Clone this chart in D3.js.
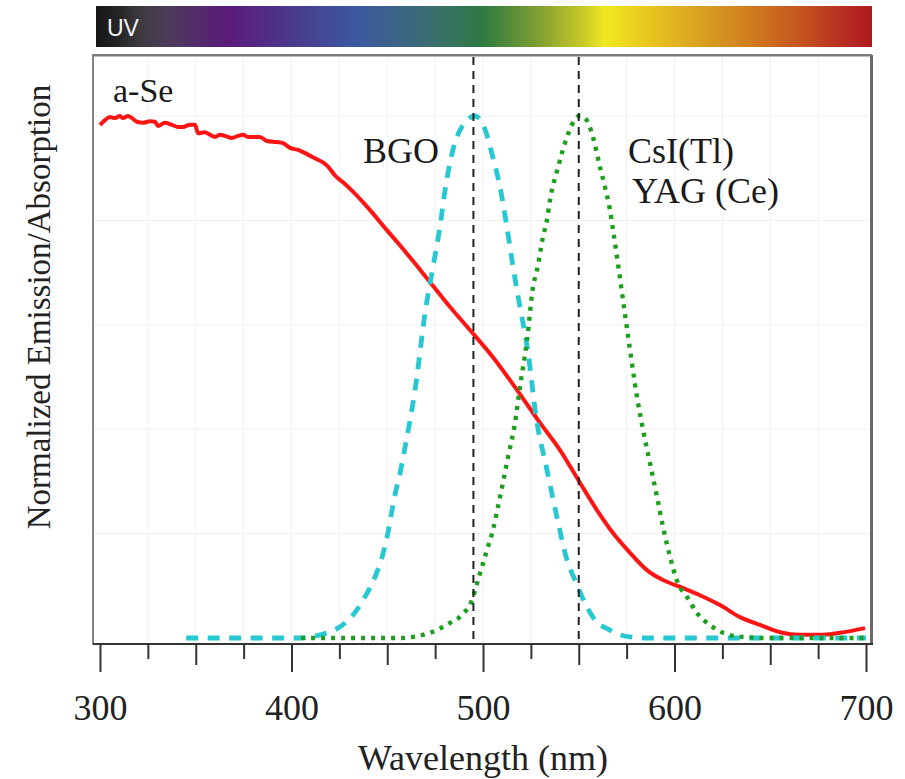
<!DOCTYPE html>
<html>
<head>
<meta charset="utf-8">
<script src="https://cdn.jsdelivr.net/npm/d3@7/dist/d3.min.js"></script>
<style>
  html, body { margin: 0; padding: 0; background: #fff; }
  svg { display: block; }
</style>
</head>
<body>
<svg id="chart" width="905" height="779"></svg>
<script>
// a-Se absorption spectrum: [wavelength nm, normalized absorption]
const aSe = [
  [300,0.983],[302.6,0.992],[305.2,0.998],[307.8,0.996],[310.4,1.0],[312,0.996],
  [314.6,1.0],[316.7,0.996],[319.3,0.989],[322.5,0.987],[326.1,0.99],[328.7,0.989],
  [330.3,0.981],[333.9,0.987],[337.6,0.983],[340.7,0.979],[343.3,0.979],[347,0.983],
  [349.6,0.983],[351.2,0.967],[354.8,0.969],[357.4,0.964],[360.1,0.96],[362.7,0.964],
  [365.3,0.962],[368.9,0.958],[372.1,0.962],[374.7,0.964],[377.3,0.96],[379.9,0.96],
  [383.6,0.96],[387.2,0.952],[392.4,0.95],[395.6,0.948],[399.2,0.939],[403.4,0.935],
  [408.1,0.927],[413.3,0.917],[416.4,0.911],[419.1,0.903],[422.7,0.886],[426.9,0.873],
  [432.1,0.855],[437.3,0.835],[442.6,0.813],[447.8,0.79],[456.7,0.752],[465.5,0.713],
  [472.3,0.682],[482.8,0.634],[493.2,0.59],[505.2,0.538],[517.8,0.475],[529.8,0.412],
  [540.2,0.36],[550.7,0.297],[559.5,0.245],[567.9,0.201],[576.8,0.163],[585.6,0.13],
  [594,0.111],[602.9,0.098],[613.3,0.082],[623.8,0.063],[634.2,0.04],[644.6,0.025],
  [655.1,0.011],[665.5,0.006],[676,0.006],[686.4,0.01],[699.5,0.019]
];

// BGO emission spectrum
const bgo = [
  [345,0.0],[375,0.0],[404.4,0.0],[414.9,0.006],[424.3,0.019],[432.1,0.044],
  [438.4,0.079],[443.6,0.117],[447.3,0.155],[449.9,0.193],[454,0.274],[456.7,0.316],
  [458.7,0.354],[464.5,0.475],[470.2,0.634],[473.9,0.711],[477.5,0.787],[480.2,0.858],
  [484.3,0.935],[489.6,0.983],[495.8,1.0],[501,0.975],[505.2,0.92],[508.9,0.864],
  [512.5,0.787],[515.7,0.711],[519.3,0.634],[523,0.559],[524.5,0.52],[527.2,0.437],
  [533.4,0.322],[538.6,0.232],[543.9,0.149],[548,0.111],[551.7,0.079],[557.4,0.04],
  [566.3,0.015],[576.8,0.002],[587.2,0.0],[640,0.0],[700,0.0]
];

// CsI(Tl) / YAG(Ce) emission spectrum
const csi = [
  [405,0.0],[440,0.0],[456.7,0.0],[472.3,0.01],[482.8,0.029],[489,0.044],[494.3,0.073],
  [497.4,0.111],[502.1,0.169],[505.2,0.207],[507.8,0.251],[513.1,0.347],[516.7,0.412],
  [519.3,0.481],[523,0.571],[526.1,0.672],[528.2,0.705],[531.3,0.768],[533.4,0.801],
  [535,0.839],[539.2,0.902],[543.9,0.96],[549.1,0.998],[550.7,1.0],[553.3,0.996],
  [557.4,0.96],[561.1,0.902],[563.7,0.864],[566.3,0.82],[567.9,0.782],[575.7,0.58],
  [580.4,0.462],[583.6,0.398],[587.2,0.335],[590.9,0.27],[594,0.213],[597.7,0.155],
  [601.8,0.105],[606.5,0.079],[611.7,0.048],[618.5,0.025],[625.3,0.01],[635.8,0.002],
  [650,0.0],[700,0.0]
];

// peak markers (nm)
const peakLines = [495, 550];

// x-axis ticks
const majorTicks = [300, 400, 500, 600, 700];
const midTicks = [350, 450, 550, 650];
const minorTicks = [325, 375, 425, 475, 525, 575, 625, 675];
const gridX = [325, 350, 375, 400, 425, 450, 475, 500, 525, 550, 575, 600, 625, 650, 675];
const gridY = [0.2, 0.4, 0.6, 0.8, 1.0];

// visible-spectrum strip: [wavelength nm, colour]
const spectrumStops = [
  [297,"#141414"],[310,"#262626"],[321,"#3e3a40"],[335,"#4b3c58"],[367,"#5c1a7a"],
  [401,"#4a3a8c"],[433,"#3b58a0"],[468,"#3c6a78"],[500,"#2f7a42"],[527,"#7a9c32"],
  [551,"#c4c628"],[564,"#f0e820"],[588,"#e8c41e"],[614,"#d8a020"],[641,"#d07a20"],
  [668,"#c4501e"],[694,"#b42424"],[703,"#b01a1a"]
];

// curve labels, anchored in data coordinates
const labels = [
  {text: "a-Se", wl: 306.8, v: 1.027, size: 34},
  {text: "BGO", wl: 437.3, v: 0.91, size: 36},
  {text: "CsI(Tl)", wl: 575.7, v: 0.91, size: 36},
  {text: "YAG (Ce)", wl: 577.8, v: 0.833, size: 36}
];

const svg = d3.select("#chart");
const serif = "'Liberation Serif', 'Times New Roman', serif";

const x = d3.scaleLinear().domain([300, 700]).range([100, 866]);
const y = d3.scaleLinear().domain([0, 1]).range([638, 116]);

const frame = {x0: 93, x1: 871, y0: 55, y1: 644};

// spectrum strip gradient
const defs = svg.append("defs");
const grad = defs.append("linearGradient")
  .attr("id", "spectrum")
  .attr("gradientUnits", "userSpaceOnUse")
  .attr("x1", x(297)).attr("x2", x(703)).attr("y1", 0).attr("y2", 0);
grad.selectAll("stop").data(spectrumStops).join("stop")
  .attr("offset", d => (x(d[0]) - x(297)) / (x(703) - x(297)))
  .attr("stop-color", d => d[1]);

svg.append("rect")
  .attr("x", 96).attr("y", 6)
  .attr("width", 776).attr("height", 41)
  .attr("fill", "url(#spectrum)");

svg.append("text")
  .attr("x", 107).attr("y", 36)
  .attr("fill", "#f4f4f4")
  .attr("font-family", "'Liberation Sans', Arial, sans-serif")
  .attr("font-size", 23)
  .text("UV");

// plot frame with a soft shadow on the right edge
svg.append("rect")
  .attr("x", frame.x0).attr("y", frame.y0)
  .attr("width", frame.x1 - frame.x0).attr("height", frame.y1 - frame.y0)
  .attr("fill", "#fff").attr("stroke", "#666").attr("stroke-width", 1.6);
svg.append("line")
  .attr("x1", frame.x1 + 0.5).attr("x2", frame.x1 + 0.5)
  .attr("y1", frame.y0).attr("y2", frame.y1)
  .attr("stroke", "#6a6a6a").attr("stroke-width", 3);
svg.append("line")
  .attr("x1", frame.x0).attr("x2", frame.x1)
  .attr("y1", frame.y0 + 0.5).attr("y2", frame.y0 + 0.5)
  .attr("stroke", "#7a7a7a").attr("stroke-width", 2.2);

// faint grid
const grid = svg.append("g").attr("stroke", "#f1f1f1").attr("stroke-width", 1);
grid.selectAll("line.gx").data(gridX).join("line")
  .attr("class", "gx")
  .attr("x1", d => x(d)).attr("x2", d => x(d))
  .attr("y1", frame.y0 + 2).attr("y2", frame.y1 - 1);
grid.selectAll("line.gy").data(gridY).join("line")
  .attr("class", "gy")
  .attr("x1", frame.x0 + 1).attr("x2", frame.x1 - 2)
  .attr("y1", d => y(d)).attr("y2", d => y(d));

// x axis: three tick lengths
function tickAxis(values, size) {
  const g = svg.append("g")
    .attr("transform", `translate(0,${frame.y1})`)
    .call(d3.axisBottom(x).tickValues(values).tickSize(size).tickFormat(""));
  g.select(".domain").remove();
  g.selectAll(".tick line").attr("stroke", "#333").attr("stroke-width", 2);
  return g;
}
tickAxis(minorTicks, 15);
tickAxis(midTicks, 21);
const majorG = tickAxis(majorTicks, 28);
majorG.call(d3.axisBottom(x).tickValues(majorTicks).tickSize(28).tickFormat(d3.format("d")));
majorG.select(".domain").remove();
majorG.selectAll(".tick line").attr("stroke", "#333").attr("stroke-width", 2);
majorG.selectAll(".tick text")
  .attr("y", 76).attr("dy", 0)
  .attr("fill", "#222")
  .attr("font-family", serif)
  .attr("font-size", 36);

// axis baseline
svg.append("line")
  .attr("x1", frame.x0).attr("x2", frame.x1 + 2)
  .attr("y1", frame.y1).attr("y2", frame.y1)
  .attr("stroke", "#333").attr("stroke-width", 2);

const line = d3.line()
  .x(d => x(d[0])).y(d => y(d[1]))
  .curve(d3.curveMonotoneX);

// a-Se absorption
svg.append("path").datum(aSe)
  .attr("d", line)
  .attr("fill", "none").attr("stroke", "#ff1414")
  .attr("stroke-width", 4).attr("stroke-linejoin", "round");

// BGO emission
svg.append("path").datum(bgo)
  .attr("d", line)
  .attr("fill", "none").attr("stroke", "#28c8d2")
  .attr("stroke-width", 4.8).attr("stroke-dasharray", "12,9.5");

// CsI(Tl)/YAG(Ce) emission
svg.append("path").datum(csi)
  .attr("d", line)
  .attr("fill", "none").attr("stroke", "#1e9e1e")
  .attr("stroke-width", 4.4).attr("stroke-dasharray", "4,6");

// peak markers
svg.selectAll("line.peak").data(peakLines).join("line")
  .attr("class", "peak")
  .attr("x1", d => x(d)).attr("x2", d => x(d))
  .attr("y1", frame.y0 + 2).attr("y2", frame.y1)
  .attr("stroke", "#222").attr("stroke-width", 2)
  .attr("stroke-dasharray", "8,6");

// curve labels
svg.selectAll("text.lbl").data(labels).join("text")
  .attr("class", "lbl")
  .attr("x", d => x(d.wl)).attr("y", d => y(d.v))
  .attr("fill", "#1a1a1a")
  .attr("font-family", serif)
  .attr("font-size", d => d.size)
  .text(d => d.text);

// axis titles
svg.append("text")
  .attr("x", 483).attr("y", 770)
  .attr("text-anchor", "middle")
  .attr("fill", "#222")
  .attr("font-family", serif)
  .attr("font-size", 36)
  .text("Wavelength (nm)");

svg.append("text")
  .attr("transform", "translate(50,307) rotate(-90)")
  .attr("text-anchor", "middle")
  .attr("fill", "#222")
  .attr("font-family", serif)
  .attr("font-size", 33)
  .text("Normalized Emission/Absorption");
</script>
</body>
</html>
